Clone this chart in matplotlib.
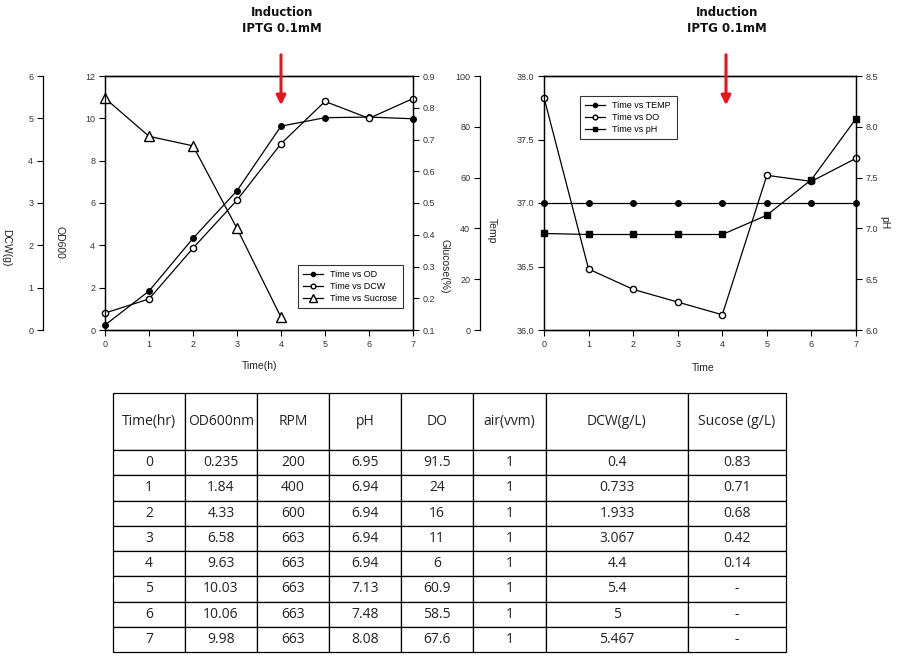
import matplotlib
matplotlib.use('Agg')
import matplotlib.pyplot as plt
from matplotlib.ticker import FormatStrFormatter
from matplotlib.patches import FancyArrowPatch

# 데이터 (표와 그래프 공통)
time = [0, 1, 2, 3, 4, 5, 6, 7]
od600 = [0.235, 1.84, 4.33, 6.58, 9.63, 10.03, 10.06, 9.98]
rpm = [200, 400, 600, 663, 663, 663, 663, 663]
ph = [6.95, 6.94, 6.94, 6.94, 6.94, 7.13, 7.48, 8.08]
do = [91.5, 24, 16, 11, 6, 60.9, 58.5, 67.6]
air = [1, 1, 1, 1, 1, 1, 1, 1]
dcw = [0.4, 0.733, 1.933, 3.067, 4.4, 5.4, 5, 5.467]
sucrose = [0.83, 0.71, 0.68, 0.42, 0.14]
temp = [37, 37, 37, 37, 37, 37, 37, 37]
header = ['Time(hr)', 'OD600nm', 'RPM', 'pH', 'DO', 'air(vvm)', 'DCW(g/L)', 'Sucose (g/L)']

W, H = 902, 658
CHART_FONT = 'Liberation Sans'
TICK_COLOR = '#333333'


def fx(x):
    return x / W


def fy(y):
    return 1 - y / H


def style(ax, which='both'):
    ax.tick_params(axis=which, direction='out', length=4, width=0.8,
                   labelsize=6.5, labelcolor=TICK_COLOR, pad=3)
    for lab in ax.get_xticklabels() + ax.get_yticklabels():
        lab.set_fontfamily(CHART_FONT)
    for sp in ax.spines.values():
        sp.set_linewidth(0.9)


fig = plt.figure(figsize=(W / 100, H / 100), dpi=100)
fig.patch.set_facecolor('white')

line_kw = dict(color='black', linewidth=0.9, clip_on=False)

# ---- 왼쪽 그래프: OD / DCW / Sucrose ----
ax1 = fig.add_axes([fx(105), fy(330), 308 / W, 254 / H])
ax1.set_xlim(0, 7)
ax1.set_ylim(0, 12)
ax1.set_xticks(time)
ax1.set_yticks(range(0, 13, 2))
l_od, = ax1.plot(time, od600, marker='o', markersize=4, markerfacecolor='black',
                 markeredgecolor='black', label='Time vs OD', **line_kw)

ax1b = ax1.twinx()
ax1b.spines['left'].set_position(('axes', -62 / 308))
ax1b.spines['left'].set_visible(True)
ax1b.spines['right'].set_visible(False)
ax1b.yaxis.set_ticks_position('left')
ax1b.set_ylim(0, 6)
ax1b.set_yticks(range(0, 7))
l_dcw, = ax1b.plot(time, dcw, marker='o', markersize=4.5, markerfacecolor='white',
                   markeredgecolor='black', label='Time vs DCW', **line_kw)

ax1c = ax1.twinx()
ax1c.set_ylim(0.1, 0.9)
ax1c.set_yticks([0.1, 0.2, 0.3, 0.4, 0.5, 0.6, 0.7, 0.8, 0.9])
ax1c.yaxis.set_major_formatter(FormatStrFormatter('%.1f'))
l_suc, = ax1c.plot(time[:len(sucrose)], sucrose, marker='^', markersize=7,
                   markerfacecolor='white', markeredgecolor='black',
                   label='Time vs Sucrose', **line_kw)

for a in (ax1, ax1b, ax1c):
    style(a)

leg_kw = dict(loc='upper left', bbox_transform=fig.transFigure, borderaxespad=0,
              prop={'family': CHART_FONT, 'size': 6.5}, fancybox=False,
              edgecolor='black', handlelength=2.2, labelspacing=0.3,
              borderpad=0.6, markerscale=0.75)
leg1 = ax1c.legend([l_od, l_dcw, l_suc], [l_od.get_label(), l_dcw.get_label(), l_suc.get_label()],
                   bbox_to_anchor=(fx(298), fy(265)), **leg_kw)
leg1.get_frame().set_linewidth(0.8)

# ---- 오른쪽 그래프: TEMP / DO / pH ----
ax2 = fig.add_axes([fx(544), fy(330), 312 / W, 254 / H])
ax2.set_xlim(0, 7)
ax2.set_ylim(36, 38)
ax2.set_xticks(time)
ax2.set_yticks([36.0, 36.5, 37.0, 37.5, 38.0])
ax2.yaxis.set_major_formatter(FormatStrFormatter('%.1f'))
l_temp, = ax2.plot(time, temp, marker='o', markersize=4, markerfacecolor='black',
                   markeredgecolor='black', label='Time vs TEMP', **line_kw)

ax2b = ax2.twinx()
ax2b.spines['left'].set_position(('axes', -64 / 312))
ax2b.spines['left'].set_visible(True)
ax2b.spines['right'].set_visible(False)
ax2b.yaxis.set_ticks_position('left')
ax2b.set_ylim(0, 100)
ax2b.set_yticks(range(0, 101, 20))
l_do, = ax2b.plot(time, do, marker='o', markersize=4.5, markerfacecolor='white',
                  markeredgecolor='black', label='Time vs DO', **line_kw)

ax2c = ax2.twinx()
ax2c.set_ylim(6.0, 8.5)
ax2c.set_yticks([6.0, 6.5, 7.0, 7.5, 8.0, 8.5])
ax2c.yaxis.set_major_formatter(FormatStrFormatter('%.1f'))
l_ph, = ax2c.plot(time, ph, marker='s', markersize=4.5, markerfacecolor='black',
                  markeredgecolor='black', label='Time vs pH', **line_kw)

for a in (ax2, ax2b, ax2c):
    style(a)

leg2 = ax2c.legend([l_temp, l_do, l_ph], [l_temp.get_label(), l_do.get_label(), l_ph.get_label()],
                   bbox_to_anchor=(fx(580), fy(96)), **leg_kw)
leg2.get_frame().set_linewidth(0.8)

# 축 제목
lab_kw = dict(fontsize=7.5, family=CHART_FONT, color='#222222', ha='center', va='center')
fig.text(fx(6), fy(248), 'DCW(g)', rotation=270, **lab_kw)
fig.text(fx(60), fy(242), 'OD600', rotation=270, **lab_kw)
fig.text(fx(444), fy(266), 'Glucose(%)', rotation=270, **lab_kw)
fig.text(fx(492), fy(231), 'Temp', rotation=270, **lab_kw)
fig.text(fx(884), fy(223), 'pH', rotation=270, **lab_kw)
fig.text(fx(260), fy(366), 'Time(h)', **lab_kw)
fig.text(fx(703), fy(368), 'Time', **lab_kw)

# 유도 시점 표시
for cx in (282, 727):
    fig.text(fx(cx), fy(13), 'Induction', fontsize=8.5, fontweight='bold',
             ha='center', va='center', color='#111111')
    fig.text(fx(cx), fy(29), 'IPTG 0.1mM', fontsize=8.5, fontweight='bold',
             ha='center', va='center', color='#111111')
    arr = FancyArrowPatch((fx(cx - 1), fy(52)), (fx(cx - 1), fy(108)),
                          transform=fig.transFigure, arrowstyle='-|>',
                          mutation_scale=14, color='#e8141b', linewidth=2.2)
    fig.add_artist(arr)

# ---- 표 ----
rows = []
for i in range(len(time)):
    suc = '%g' % sucrose[i] if i < len(sucrose) else '-'
    rows.append(['%g' % time[i], '%g' % od600[i], '%g' % rpm[i], '%g' % ph[i],
                 '%g' % do[i], '%g' % air[i], '%g' % dcw[i], suc])

tax = fig.add_axes([0, 0, 1, 1])
tax.axis('off')
col_w = [72, 72, 72, 72, 72, 73, 142, 98]
tbl = tax.table(cellText=rows, colLabels=header, cellLoc='center',
                colWidths=[w / sum(col_w) for w in col_w],
                bbox=[fx(113), fy(652), 673 / W, 259 / H])
tbl.auto_set_font_size(False)
for (r, c), cell in tbl.get_celld().items():
    cell.set_height(57 if r == 0 else 25.25)
    cell.set_linewidth(0.9)
    cell.set_edgecolor('black')
    t = cell.get_text()
    t.set_fontsize(10)
    t.set_fontfamily('Open Sans')
    t.set_color('#222222')

fig.savefig('out.png', dpi=100)
